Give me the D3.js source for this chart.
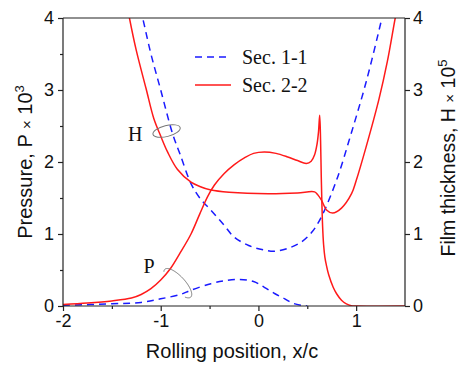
<!DOCTYPE html>
<html>
<head>
<meta charset="utf-8">
<script src="https://cdn.jsdelivr.net/npm/d3@7"></script>
<style>
  html, body { margin: 0; padding: 0; background: #fff; }
  svg { display: block; }
</style>
</head>
<body>
<svg id="chart" width="461" height="365"></svg>
<script>
// ---------- data ----------
const xTicks = [-2, -1, 0, 1];
const xMinorTicks = [-1.5, -0.5, 0.5];
const yTicks = [0, 1, 2, 3, 4];
const yMinorTicks = [0.5, 1.5, 2.5, 3.5];

const seriesNames = ["Sec. 1-1", "Sec. 2-2"];

// Sec. 1-1 film thickness H (x/c, H×1e5)
const h11X = [-1.27, -1.185, -1.1, -1.0, -0.88, -0.8, -0.69, -0.6, -0.486, -0.35, -0.25, -0.1, 0.05, 0.165, 0.3, 0.44, 0.55, 0.645, 0.8, 0.95, 1.1, 1.25, 1.28];
const h11Y = [4.45, 4.0, 3.5, 3.0, 2.40, 2.10, 1.70, 1.50, 1.33, 1.12, 0.96, 0.84, 0.78, 0.76, 0.80, 0.89, 1.03, 1.24, 1.75, 2.40, 3.10, 3.92, 4.1];

// Sec. 2-2 film thickness H
const h22X = [-1.36, -1.32, -1.25, -1.15, -1.07, -1.0, -0.93, -0.83, -0.69, -0.6, -0.486, -0.3, 0.1, 0.4, 0.575, 0.61, 0.645, 0.7, 0.76, 0.85, 0.953, 1.0, 1.1, 1.233, 1.32, 1.40, 1.43];
const h22Y = [4.3, 4.0, 3.55, 3.02, 2.60, 2.36, 2.14, 1.90, 1.72, 1.66, 1.61, 1.58, 1.56, 1.57, 1.585, 1.54, 1.47, 1.33, 1.29, 1.36, 1.56, 1.74, 2.2, 2.87, 3.4, 4.0, 4.2];

// Sec. 1-1 pressure P (×1e3)
const p11X = [-2, -1.5, -1.2, -1.0, -0.8, -0.69, -0.486, -0.35, -0.2, -0.05, 0.06, 0.17, 0.27, 0.35, 0.44, 0.5];
const p11Y = [0.01, 0.03, 0.05, 0.10, 0.16, 0.22, 0.31, 0.35, 0.37, 0.34, 0.26, 0.17, 0.10, 0.04, 0.01, 0.0];

// Sec. 2-2 pressure P
const p22X = [-2, -1.75, -1.5, -1.3, -1.2, -1.1, -1.0, -0.9, -0.8, -0.69, -0.6, -0.52, -0.45, -0.35, -0.25, -0.14, -0.05, 0.06, 0.18, 0.30, 0.40, 0.49, 0.54, 0.575, 0.60, 0.615, 0.627, 0.636, 0.643, 0.650, 0.657, 0.667, 0.68, 0.695, 0.72, 0.765, 0.8, 0.85, 0.9, 0.95, 1.0, 1.5];
const p22Y = [0.02, 0.04, 0.07, 0.11, 0.16, 0.24, 0.36, 0.52, 0.74, 1.0, 1.28, 1.52, 1.68, 1.84, 1.96, 2.06, 2.12, 2.14, 2.12, 2.07, 2.02, 1.98, 2.01, 2.10, 2.25, 2.42, 2.65, 2.30, 1.80, 1.40, 1.10, 0.85, 0.68, 0.57, 0.43, 0.26, 0.17, 0.08, 0.03, 0.005, 0.0, 0.0];

// annotations (data units)
const annLabels = ["H", "P"];
const annLabelX = [-1.26, -1.12];
const annLabelY = [2.39, 0.55];
const annEllX = [-0.94, -0.825];
const annEllY = [2.43, 0.317];

// ---------- layout ----------
const svg = d3.select("#chart");
const m = { left: 63, right: 405, top: 18, bottom: 306 };

const x = d3.scaleLinear().domain([-2, 1.5]).range([m.left, m.right]);
const yL = d3.scaleLinear().domain([0, 4]).range([m.bottom, m.top]);
const yR = d3.scaleLinear().domain([0, 4]).range([m.bottom, m.top]);

const axisColor = "#222";
const tickFont = "Liberation Sans, Arial, sans-serif";
const serif = "Liberation Serif, Times New Roman, serif";

svg.append("defs").append("clipPath").attr("id", "clip")
  .append("rect").attr("x", m.left).attr("y", m.top)
  .attr("width", m.right - m.left).attr("height", m.bottom - m.top);

// ---------- curves ----------
const zip = (xs, ys) => xs.map((v, i) => [v, ys[i]]);
const curve = d3.curveCatmullRom.alpha(0.5);
const lineL = d3.line().x(d => x(d[0])).y(d => yL(d[1])).curve(curve);
const lineR = d3.line().x(d => x(d[0])).y(d => yR(d[1])).curve(curve);

const g = svg.append("g").attr("clip-path", "url(#clip)");
const blue = "#1a1aff", red = "#ff1a1a";
g.append("path").attr("d", lineR(zip(h11X, h11Y))).attr("fill", "none")
  .attr("stroke", blue).attr("stroke-width", 1.5).attr("stroke-dasharray", "7,5");
g.append("path").attr("d", lineL(zip(p11X, p11Y))).attr("fill", "none")
  .attr("stroke", blue).attr("stroke-width", 1.5).attr("stroke-dasharray", "7,5");
g.append("path").attr("d", lineR(zip(h22X, h22Y))).attr("fill", "none")
  .attr("stroke", red).attr("stroke-width", 1.5);
g.append("path").attr("d", lineL(zip(p22X, p22Y))).attr("fill", "none")
  .attr("stroke", red).attr("stroke-width", 1.5);

// ---------- axes ----------
function styleAxis(sel) {
  sel.select(".domain").remove();
  sel.selectAll("line").attr("stroke", axisColor).attr("stroke-width", 1.2);
  sel.selectAll("text").attr("fill", "#111").style("font-family", tickFont).style("font-size", "18px");
}
const gx = svg.append("g").attr("transform", `translate(0,${m.bottom})`)
  .call(d3.axisBottom(x).tickValues(xTicks).tickSize(5).tickPadding(3).tickFormat(d => String(d)));
styleAxis(gx);
const gxm = svg.append("g").attr("transform", `translate(0,${m.bottom})`)
  .call(d3.axisBottom(x).tickValues(xMinorTicks).tickSize(3).tickFormat(""));
styleAxis(gxm);

const gy = svg.append("g").attr("transform", `translate(${m.left},0)`)
  .call(d3.axisLeft(yL).tickValues(yTicks).tickSize(5).tickPadding(4).tickFormat(d => String(d)));
styleAxis(gy);
const gym = svg.append("g").attr("transform", `translate(${m.left},0)`)
  .call(d3.axisLeft(yL).tickValues(yMinorTicks).tickSize(3).tickFormat(""));
styleAxis(gym);

const gyr = svg.append("g").attr("transform", `translate(${m.right},0)`)
  .call(d3.axisRight(yR).tickValues(yTicks).tickSize(5).tickPadding(3).tickFormat(d => String(d)));
styleAxis(gyr);

// frame lines (left, bottom, right, top)
const frame = svg.append("g").attr("stroke", axisColor).attr("stroke-width", 1.2);
frame.append("line").attr("x1", m.left).attr("x2", m.left).attr("y1", m.top).attr("y2", m.bottom);
frame.append("line").attr("x1", m.right).attr("x2", m.right).attr("y1", m.top).attr("y2", m.bottom);
frame.append("line").attr("x1", m.left).attr("x2", m.right).attr("y1", m.bottom).attr("y2", m.bottom);
frame.append("line").attr("x1", m.left).attr("x2", m.right).attr("y1", m.top).attr("y2", m.top);

// ---------- axis titles ----------
svg.append("text").attr("x", (m.left + m.right) / 2 - 2).attr("y", 358)
  .attr("text-anchor", "middle").style("font-family", tickFont).style("font-size", "20px")
  .attr("fill", "#111").text("Rolling position, x/c");

const lt = svg.append("text").attr("transform", `translate(32,${(m.top + m.bottom) / 2}) rotate(-90)`)
  .attr("text-anchor", "middle").style("font-family", tickFont).style("font-size", "20px").attr("fill", "#111");
lt.append("tspan").text("Pressure, P ");
lt.append("tspan").style("font-size", "15px").text("×");
lt.append("tspan").text(" 10");
lt.append("tspan").attr("dy", -8).style("font-size", "13px").text("3");

const rt = svg.append("text").attr("transform", `translate(455,${(m.top + m.bottom) / 2 - 4}) rotate(-90)`)
  .attr("text-anchor", "middle").style("font-family", tickFont).style("font-size", "19.5px").attr("fill", "#111");
rt.append("tspan").text("Film thickness, H ");
rt.append("tspan").style("font-size", "15px").text("×");
rt.append("tspan").text(" 10");
rt.append("tspan").attr("dy", -8).style("font-size", "13px").text("5");

// ---------- legend ----------
const leg = svg.append("g");
const legY = [57, 85];
const legStyles = [{ c: blue, d: "7,5" }, { c: red, d: null }];
seriesNames.forEach((nm, i) => {
  const l = leg.append("line").attr("x1", 195).attr("x2", 231).attr("y1", legY[i]).attr("y2", legY[i])
    .attr("stroke", legStyles[i].c).attr("stroke-width", 1.5);
  if (legStyles[i].d) l.attr("stroke-dasharray", legStyles[i].d);
  leg.append("text").attr("x", 242).attr("y", legY[i] + 6.5)
    .style("font-family", serif).style("font-size", "20px").attr("fill", "#111").text(nm);
});

// ---------- annotations ----------
annLabels.forEach((t, i) => {
  svg.append("text").attr("x", x(annLabelX[i])).attr("y", yL(annLabelY[i]) + 7)
    .attr("text-anchor", "middle").style("font-family", serif).style("font-size", "20px")
    .attr("fill", "#111").text(t);
});
// H ellipse
svg.append("ellipse").attr("cx", 0).attr("cy", 0).attr("rx", 14).attr("ry", 5.5)
  .attr("transform", `translate(${x(annEllX[0])},${yL(annEllY[0])}) rotate(-14)`)
  .attr("fill", "none").attr("stroke", "#777").attr("stroke-width", 1);
// P open ellipse arc
{
  const cx = x(annEllX[1]), cy = yL(annEllY[1]);
  const th = 47 * Math.PI / 180, a = 19, b = 7;
  const pts = d3.range(Math.PI - 0.35, 2 * Math.PI + 0.7, 0.05).map(t => [
    cx + a * Math.cos(t) * Math.cos(th) - b * Math.sin(t) * Math.sin(th),
    cy + a * Math.cos(t) * Math.sin(th) + b * Math.sin(t) * Math.cos(th)
  ]);
  svg.append("path").attr("d", d3.line().curve(d3.curveBasis)(pts))
    .attr("fill", "none").attr("stroke", "#777").attr("stroke-width", 1);
}
</script>
</body>
</html>
